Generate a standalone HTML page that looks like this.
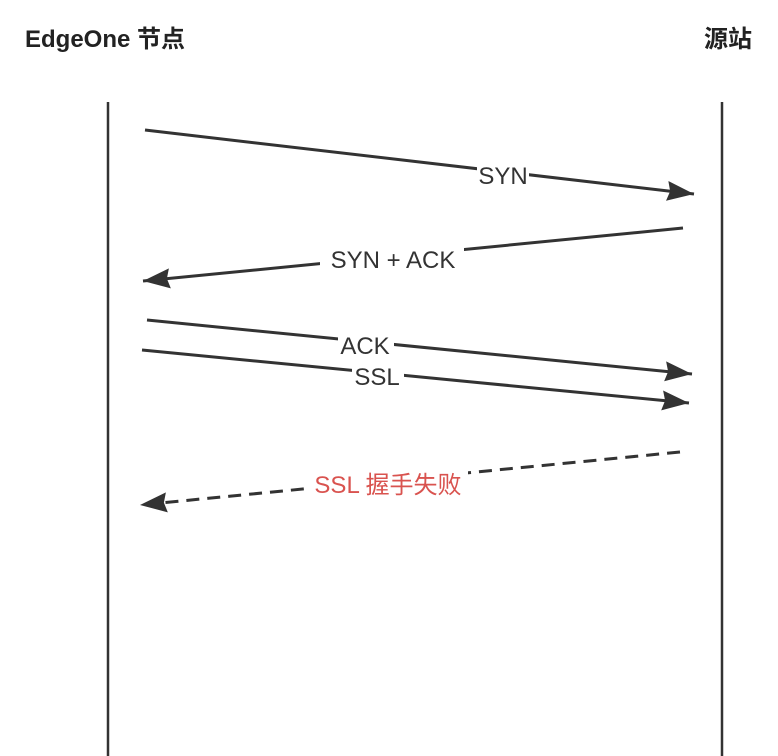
<!DOCTYPE html>
<html><head><meta charset="utf-8"><style>
html,body{margin:0;padding:0;background:#fff;width:778px;height:756px;overflow:hidden}
svg text{font-family:"Liberation Sans","Noto Sans CJK SC",sans-serif}
</style></head><body>
<svg width="778" height="756" viewBox="0 0 778 756" xmlns="http://www.w3.org/2000/svg">
<defs>
<marker id="a" markerUnits="userSpaceOnUse" markerWidth="30" markerHeight="22" refX="27" refY="11" orient="auto">
<path d="M0,1 L27,11 L0,21 L3,11 Z" fill="#333"/>
</marker>
</defs>
<text x="25" y="47" font-size="24" font-weight="bold" fill="#222">EdgeOne 节点</text>
<text x="752" y="47" font-size="24" font-weight="bold" fill="#222" text-anchor="end">源站</text>
<line x1="108" y1="102" x2="108" y2="756" stroke="#333" stroke-width="2.5"/>
<line x1="722" y1="102" x2="722" y2="756" stroke="#333" stroke-width="2.5"/>
<g stroke="#333" stroke-width="3" fill="none">
<line x1="145" y1="130" x2="694" y2="194" marker-end="url(#a)"/>
<line x1="683" y1="228" x2="143" y2="281" marker-end="url(#a)"/>
<line x1="147" y1="320" x2="692" y2="374" marker-end="url(#a)"/>
<line x1="142" y1="350" x2="689" y2="403" marker-end="url(#a)"/>
<line x1="680" y1="452" x2="140" y2="505" stroke-dasharray="13 8" marker-end="url(#a)"/>
</g>
<g fill="#fff">
<rect x="477" y="160" width="52" height="28"/>
<rect x="320" y="245" width="144" height="28"/>
<rect x="338" y="331" width="56" height="28"/>
<rect x="352" y="363" width="52" height="28"/>
<rect x="308" y="468" width="160" height="32"/>
</g>
<g font-size="24" fill="#333" text-anchor="middle">
<text x="503" y="184">SYN</text>
<text x="393" y="268">SYN + ACK</text>
<text x="365" y="354">ACK</text>
<text x="377" y="385">SSL</text>
<text x="388" y="493" fill="#d9534f">SSL 握手失败</text>
</g>
</svg>
</body></html>
